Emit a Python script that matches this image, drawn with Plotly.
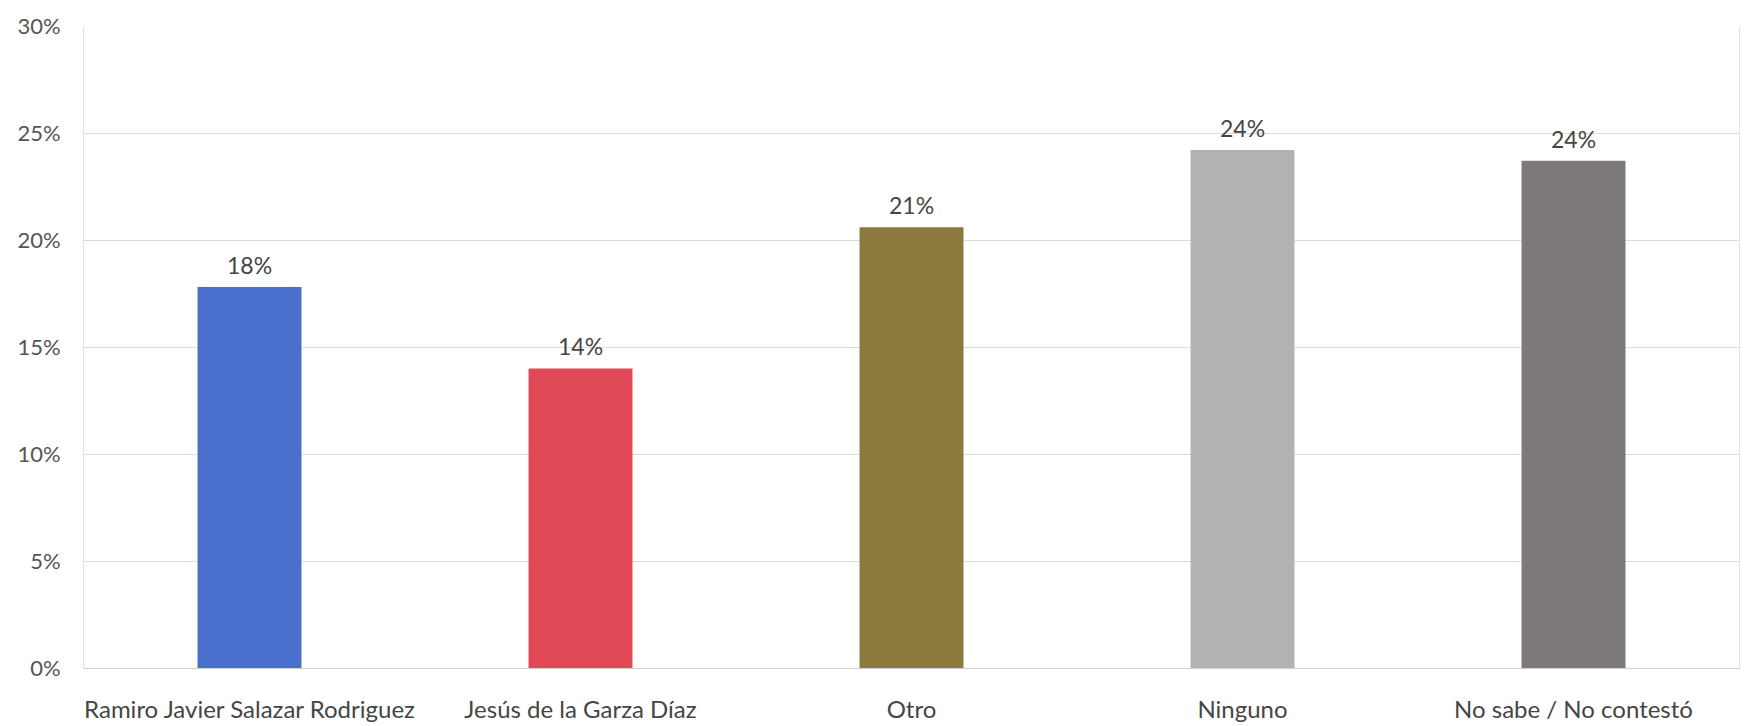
import plotly.graph_objects as go

categories = ["Ramiro Javier Salazar Rodriguez", "Jesús de la Garza Díaz", "Otro", "Ninguno", "No sabe / No contestó"]
values = [17.8, 14.0, 20.6, 24.2, 23.7]
labels = ["18%", "14%", "21%", "24%", "24%"]
colors = ["#4A6ECB", "#E04855", "#8C7A3C", "#B3B1B1", "#7D7979"]
tick_vals = [0, 5, 10, 15, 20, 25, 30]
tick_text = ["0%", "5%", "10%", "15%", "20%", "25%", "30%"]

fig = go.Figure(go.Bar(
    x=categories, y=values, marker=dict(color=colors, line=dict(width=0)),
    width=0.314, hoverinfo="x+y",
))
for c, v, t in zip(categories, values, labels):
    fig.add_annotation(x=c, y=v, text=t, showarrow=False, yanchor="bottom", yshift=6,
                       font=dict(size=23, color="#454545"))
fig.update_layout(
    width=1754, height=726,
    margin=dict(l=76, r=23, t=18, b=66),
    paper_bgcolor="white", plot_bgcolor="white",
    font=dict(family="Lato, Open Sans, sans-serif", size=22, color="#595959"),
    showlegend=False,
)
fig.update_yaxes(range=[0, 30], tickvals=tick_vals, ticktext=tick_text, automargin=False,
                 gridcolor="#DCDCDC", gridwidth=1, zeroline=False,
                 showline=True, linecolor="#E2E2E2", mirror=True, ticks="", ticklabelstandoff=18,
                 tickfont=dict(size=22, color="#555555"))
fig.update_xaxes(showgrid=False, showline=True, linecolor="#D0D0D0", ticks="", automargin=False,
                 ticklabelstandoff=20, tickfont=dict(size=24, color="#454545"))
fig.write_html("out.html")
